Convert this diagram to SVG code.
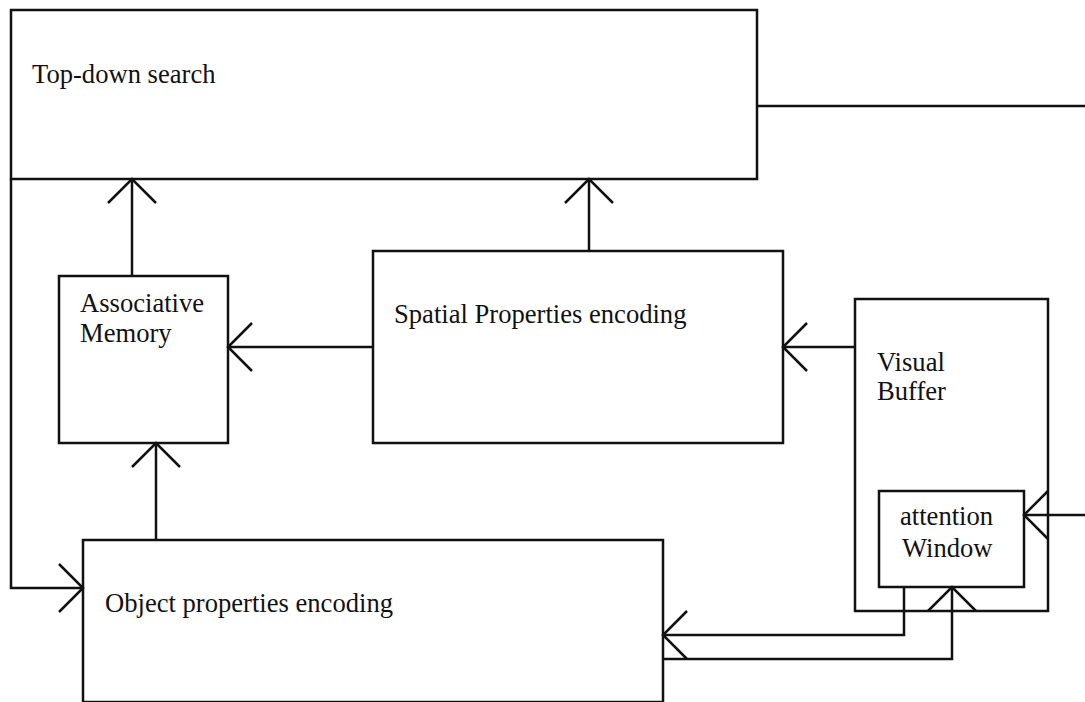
<svg xmlns="http://www.w3.org/2000/svg" width="1085" height="702" viewBox="0 0 1085 702">
<style>
.box{fill:none;stroke:#111;stroke-width:2.5}
.lbl{font-family:"Liberation Serif","Times New Roman",serif;font-size:26.6px;fill:#111}
.con{fill:none;stroke:#111;stroke-width:2.5}
.arr{marker-end:url(#v)}
</style>
<defs>
<marker id="v" viewBox="-28 -28 32 56" refX="0" refY="0" markerWidth="32" markerHeight="56" markerUnits="userSpaceOnUse" orient="auto">
<path d="M-24,-24 L0,0 L-24,24" fill="none" stroke="#111" stroke-width="2.5"/>
</marker>
</defs>
<rect width="1085" height="702" fill="#fff"/>
<g id="topdown">
<rect class="box" x="11" y="10" width="746" height="169"/>
<text class="lbl" x="32" y="83">Top-down search</text>
</g>
<g id="assoc">
<rect class="box" x="59" y="276" width="169" height="167"/>
<text class="lbl" x="80" y="312">Associative</text>
<text class="lbl" x="80" y="342">Memory</text>
</g>
<g id="spatial">
<rect class="box" x="373" y="251" width="410" height="192"/>
<text class="lbl" x="394" y="323">Spatial Properties encoding</text>
</g>
<g id="visualbuffer">
<rect class="box" x="855" y="299" width="193" height="312"/>
<text class="lbl" x="877" y="371">Visual</text>
<text class="lbl" x="877" y="400">Buffer</text>
</g>
<g id="attention">
<rect class="box" x="879" y="491" width="145" height="96"/>
<text class="lbl" x="900" y="525">attention</text>
<text class="lbl" x="902" y="557">Window</text>
</g>
<g id="object">
<rect class="box" x="83" y="540" width="580" height="162"/>
<text class="lbl" x="105" y="612">Object properties encoding</text>
</g>
<g id="connectors">
<path class="con arr" d="M132,276 V179"/>
<path class="con arr" d="M589,251 V179"/>
<path class="con arr" d="M373,347 H228"/>
<path class="con arr" d="M855,347 H783"/>
<path class="con arr" d="M156,540 V443"/>
<path class="con arr" d="M11,179 V588 H83"/>
<path class="con" d="M757,106 H1085"/>
<path class="con arr" d="M1085,515 H1024"/>
<path class="con arr" d="M904,587 V635 H663"/>
<path class="con arr" d="M663,659 H952 V587"/>
</g>
</svg>
